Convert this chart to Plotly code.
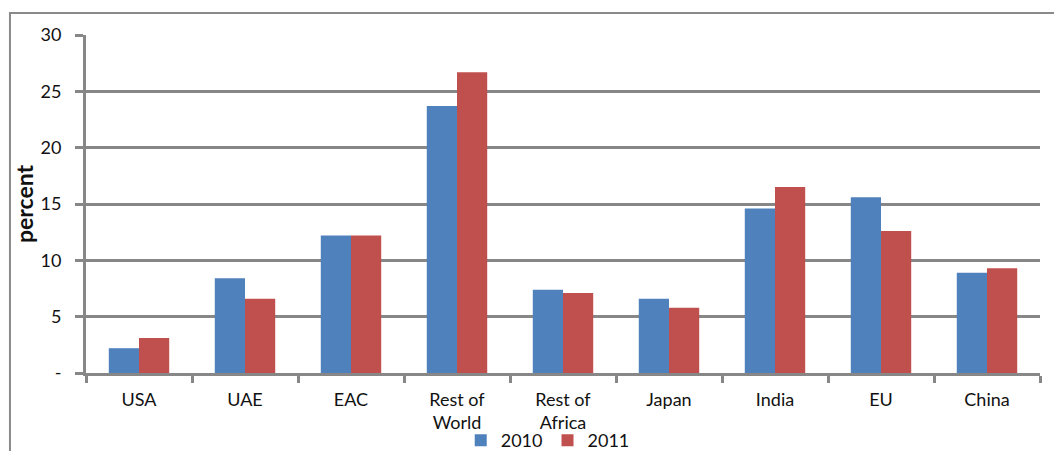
import plotly.graph_objects as go

categories = ["USA", "UAE", "EAC", "Rest of<br>World", "Rest of<br>Africa", "Japan", "India", "EU", "China"]
values_2010 = [2.2, 8.4, 12.2, 23.7, 7.4, 6.6, 14.6, 15.6, 8.9]
values_2011 = [3.1, 6.6, 12.2, 26.7, 7.1, 5.8, 16.5, 12.6, 9.3]
y_ticks = [0, 5, 10, 15, 20, 25, 30]
y_ticktext = ["-", "5", "10", "15", "20", "25", "30"]

FONT = "Lato, 'Open Sans', sans-serif"
GRID = "#878787"

fig = go.Figure()
fig.add_trace(go.Bar(name="2010", x=categories, y=values_2010, marker=dict(color="#4F81BD", line=dict(width=0))))
fig.add_trace(go.Bar(name="2011", x=categories, y=values_2011, marker=dict(color="#C0504D", line=dict(width=0))))

fig.update_layout(
    width=1062, height=451,
    margin=dict(l=78, r=30, t=27, b=86, autoexpand=False),
    paper_bgcolor="white", plot_bgcolor="white",
    barmode="group", bargap=0.43, bargroupgap=0,
    font=dict(family=FONT, size=18, color="#111"),
    showlegend=True,
    legend=dict(orientation="h", x=0.484, y=-0.2, xanchor="center", yanchor="middle",
                bgcolor="rgba(0,0,0,0)",
                font=dict(size=18), itemwidth=30, traceorder="normal"),
    xaxis=dict(showgrid=False, showline=True, linecolor=GRID, linewidth=3, automargin=False,
               ticks="outside", tickson="boundaries", ticklen=7, tickwidth=3, tickcolor=GRID,
               ticklabelstandoff=8,
               tickfont=dict(size=18), fixedrange=True),
    yaxis=dict(range=[0, 30], tickvals=y_ticks, ticktext=y_ticktext, automargin=False,
               showgrid=True, gridcolor=GRID, gridwidth=3,
               showline=True, linecolor=GRID, linewidth=3,
               ticks="outside", ticklen=8, tickwidth=3, tickcolor=GRID,
               ticklabelstandoff=10,
               zeroline=False, tickfont=dict(size=18),
               title=dict(text="<b>percent</b>", font=dict(size=23), standoff=1)),
    shapes=[dict(type="rect", xref="paper", yref="paper",
                 x0=-0.0797, x1=1.2, y0=-0.5, y1=1.065,
                 line=dict(color="#8a8a8a", width=2), fillcolor="rgba(0,0,0,0)", layer="below")],
)

fig.write_html("out.html")
